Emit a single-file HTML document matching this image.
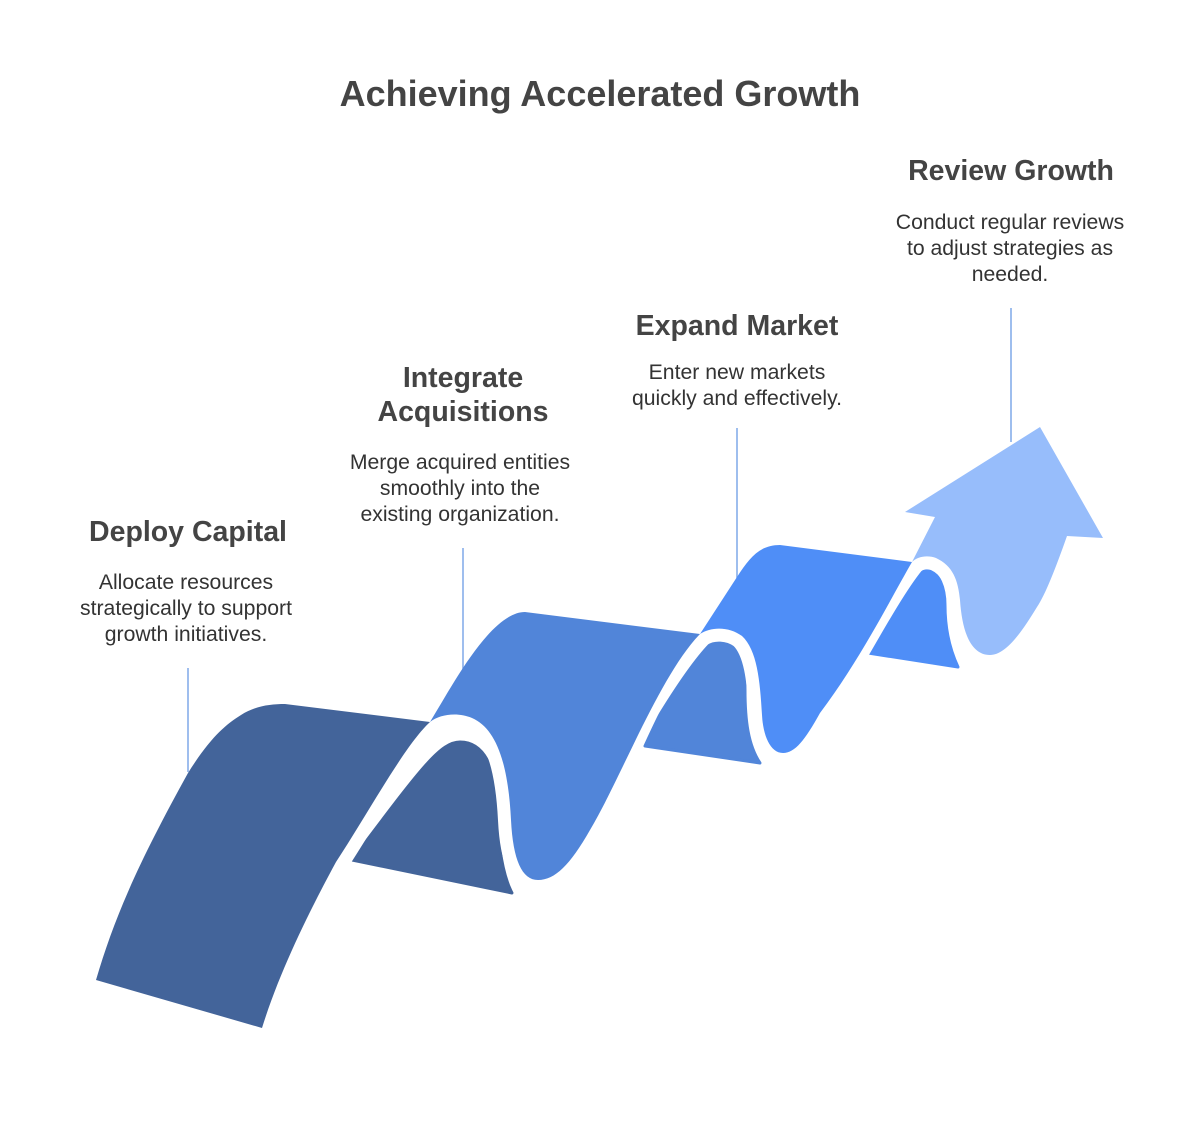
<!DOCTYPE html>
<html><head><meta charset="utf-8"><style>
html,body{margin:0;padding:0;background:#fff;}
svg{display:block;}
text{font-family:"Liberation Sans",Arial,sans-serif;}
.h{font-weight:bold;font-size:28.5px;fill:#444;}
.b{font-size:21.2px;fill:#333;}
</style></head><body>
<svg width="1200" height="1131" viewBox="0 0 1200 1131" xmlns="http://www.w3.org/2000/svg">
<rect width="1200" height="1131" fill="#fff"/>
<text x="600" y="106" text-anchor="middle" font-weight="bold" font-size="36" fill="#444">Achieving Accelerated Growth</text>

<g stroke="#7fa8e8" stroke-width="1.5">
<line x1="188" y1="668" x2="188" y2="772"/>
<line x1="463" y1="548" x2="463" y2="670"/>
<line x1="737" y1="428" x2="737" y2="578"/>
<line x1="1011" y1="308" x2="1011" y2="442"/>
</g>

<!-- back folds -->
<path d="M352,860 L512,893 C500,870 497,830 497,800 C495,770 485,742 460,742 C440,742 420,770 352,860 Z" fill="#43649A" stroke="#43649A" stroke-width="3" stroke-linejoin="round"/>
<path d="M645,746 L760,763 C748,745 745,720 745,690 C745,660 735,638 717,638 C700,638 680,670 645,746 Z" fill="#5185D9" stroke="#5185D9" stroke-width="3" stroke-linejoin="round"/>
<path d="M868,653 L958,667 C950,650 945,630 945,605 C945,590 940,570 925,570 C905,570 895,595 868,653 Z" fill="#4F8EF7" stroke="#4F8EF7" stroke-width="3" stroke-linejoin="round"/>

<!-- white bands -->
<g fill="none" stroke="#fff" stroke-width="26" stroke-linecap="round">
<path d="M262,1028 C280,970 310,910 336,862 C370,810 405,745 430,722 C440,714 458,712 472,718 C495,728 508,760 511,820 C513,860 522,880 538,880"/>
<path d="M560,860 C600,790 660,675 700,634 C712,626 730,627 742,636 C757,650 760,680 762,715 C763,735 770,753 783,753"/>
<path d="M810,728 C845,675 885,595 912,562 C918,556 928,555 936,558 C953,566 958,580 960,600 C962,630 970,655 990,655"/>
</g>

<path d="M912,562 L935,517 L905,512 L1040,427 L1103,538 L1067,536 C1055,570 1045,595 1037,607 C1020,635 1005,655 990,655 C970,655 962,630 960,600 C958,580 953,566 936,558 C928,555 918,556 912,562 Z" fill="#97BDFB"/>
<path d="M700,634 L737,577 C750,557 760,545 780,545 L912,562 C890,600 860,660 820,713 C805,740 795,753 783,753 C770,753 763,735 762,715 C760,680 757,650 742,636 C730,627 712,626 700,634 Z" fill="#4F8EF7"/>
<path d="M430,722 C450,690 490,612 525,612 L700,634 C660,675 620,780 590,830 C570,865 555,880 538,880 C522,880 513,860 511,820 C508,760 495,728 472,718 C458,712 440,714 430,722 Z" fill="#5185D9"/>
<path d="M96,980 C115,915 140,860 188,773 C210,738 225,725 241,715 C255,706 270,704 285,704 L430,722 C405,745 370,810 336,862 C310,910 280,970 262,1028 Z" fill="#43649A"/>

<text class="h" x="188" y="541" text-anchor="middle">Deploy Capital</text>
<text class="b" x="186" y="589" text-anchor="middle">Allocate resources</text>
<text class="b" x="186" y="615" text-anchor="middle">strategically to support</text>
<text class="b" x="186" y="641" text-anchor="middle">growth initiatives.</text>

<text class="h" x="463" y="387" text-anchor="middle">Integrate</text>
<text class="h" x="463" y="421" text-anchor="middle">Acquisitions</text>
<text class="b" x="460" y="469" text-anchor="middle">Merge acquired entities</text>
<text class="b" x="460" y="495" text-anchor="middle">smoothly into the</text>
<text class="b" x="460" y="521" text-anchor="middle">existing organization.</text>

<text class="h" x="737" y="335" text-anchor="middle">Expand Market</text>
<text class="b" x="737" y="379" text-anchor="middle">Enter new markets</text>
<text class="b" x="737" y="405" text-anchor="middle">quickly and effectively.</text>

<text class="h" x="1011" y="180" text-anchor="middle">Review Growth</text>
<text class="b" x="1010" y="229" text-anchor="middle">Conduct regular reviews</text>
<text class="b" x="1010" y="255" text-anchor="middle">to adjust strategies as</text>
<text class="b" x="1010" y="281" text-anchor="middle">needed.</text>
</svg>
</body></html>
